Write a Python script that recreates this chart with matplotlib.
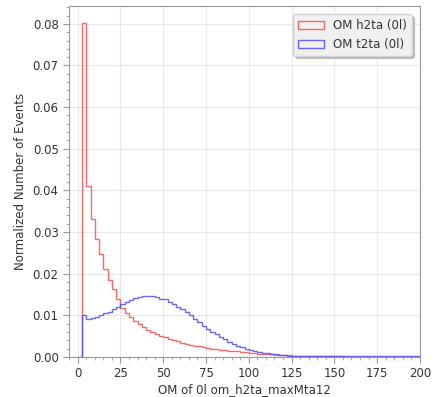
import matplotlib
matplotlib.use("Agg")
import matplotlib.pyplot as plt
from matplotlib.ticker import MultipleLocator
import numpy as np

# histogram binning: 80 bins of 2.5 from 0 to 200
bin_edges = np.arange(0, 202.5, 2.5)

# OM h2ta (0l), normalized content per bin
h2ta = [0.0, 0.0803, 0.0410, 0.0331, 0.0283, 0.0247, 0.0211, 0.0185, 0.0163, 0.0140,
        0.0117, 0.0105, 0.0095, 0.0086, 0.0078, 0.0071, 0.0065, 0.0059, 0.0054, 0.0050,
        0.0047, 0.0044, 0.0040, 0.0037, 0.0034, 0.0031, 0.0029, 0.0027, 0.0025, 0.0023,
        0.0021, 0.0020, 0.0018, 0.0017, 0.0016, 0.0015, 0.0014, 0.0013, 0.0012, 0.0011,
        0.0010, 0.0009, 0.0008, 0.0008, 0.0007, 0.0006, 0.0005, 0.0005, 0.0004, 0.0004,
        0.0003, 0.0003, 0.0003, 0.0002, 0.0002, 0.0002, 0.0002, 0.0001, 0.0001, 0.0001,
        0.0001, 0.0001, 0.00008, 0.00006, 0.00005, 0.00004, 0.00003, 0.00003, 0.00002, 0.00002,
        0.00002, 0.00001, 0.00001, 0.00001, 0.00001, 0.0, 0.0, 0.0, 0.0, 0.0]

# OM t2ta (0l)
t2ta = [0.0, 0.0101, 0.0091, 0.0093, 0.0097, 0.0101, 0.0105, 0.0109, 0.0115, 0.0121,
        0.0127, 0.0131, 0.0136, 0.0141, 0.0145, 0.0147, 0.0147, 0.0147, 0.0145, 0.0139,
        0.0138, 0.0131, 0.0126, 0.0120, 0.0115, 0.0108, 0.0100, 0.0091, 0.0083, 0.0075,
        0.0068, 0.0061, 0.0054, 0.0048, 0.0042, 0.0036, 0.0031, 0.0027, 0.0023, 0.0020,
        0.0017, 0.0014, 0.0012, 0.0010, 0.0009, 0.0007, 0.0006, 0.0005, 0.0004, 0.0003,
        0.0003, 0.0002, 0.0002, 0.0002, 0.00015, 0.0001, 0.0001, 0.0001, 0.0001, 0.0001,
        0.0001, 0.0001, 0.0001, 0.0001, 0.0001, 0.0001, 0.0001, 0.0001, 0.0001, 0.0001,
        0.0001, 0.0001, 0.0001, 0.0001, 0.0001, 0.0001, 0.0001, 0.0001, 0.0001, 0.0001]

labels = ["OM h2ta (0l)", "OM t2ta (0l)"]
colors = ["#ff4d4d", "#4d4dff"]

plt.rcParams['font.size'] = 8.5
fig = plt.figure(figsize=(4.32, 3.97), dpi=100)
ax = fig.add_axes([0.160, 0.101, 0.812, 0.884])

# step histograms drawn from the per-bin weights
centers = 0.5 * (bin_edges[:-1] + bin_edges[1:])
for vals, lab, col in zip([h2ta, t2ta], labels, colors):
    ax.hist(centers, bins=bin_edges, weights=vals, histtype="step",
            color=col, lw=1.0, alpha=0.85, label=lab)

ax.set_xlim(-5, 200)
ax.set_ylim(0, 0.0843)
ax.xaxis.set_major_locator(MultipleLocator(25))
ax.xaxis.set_minor_locator(MultipleLocator(5))
ax.yaxis.set_major_locator(MultipleLocator(0.01))
ax.yaxis.set_minor_locator(MultipleLocator(0.002))
ax.yaxis.set_major_formatter(matplotlib.ticker.FormatStrFormatter('%.2f'))

ax.grid(True, which="major", color="#e8e8e8", lw=0.8)
ax.set_axisbelow(True)
for s in ax.spines.values():
    s.set_color("#999999")
ax.tick_params(which="both", colors="#999999", labelcolor="#333333")
ax.tick_params(which="major", length=4)
ax.tick_params(which="minor", length=2.5)

ax.set_xlabel("OM of 0l om_h2ta_maxMta12", color="#333333", labelpad=2)
ax.set_ylabel("Normalized Number of Events", color="#333333")

leg = ax.legend(loc="upper right", frameon=True, fancybox=True,
                shadow={'color': '#bbbbbb', 'alpha': 1.0},
                facecolor="#f0f0f0", edgecolor="#d0d0d0", framealpha=1.0,
                handlelength=2.2, borderaxespad=0.7, fontsize=8.5)
for t in leg.get_texts():
    t.set_color("#333333")

fig.savefig("out.png", dpi=100)
